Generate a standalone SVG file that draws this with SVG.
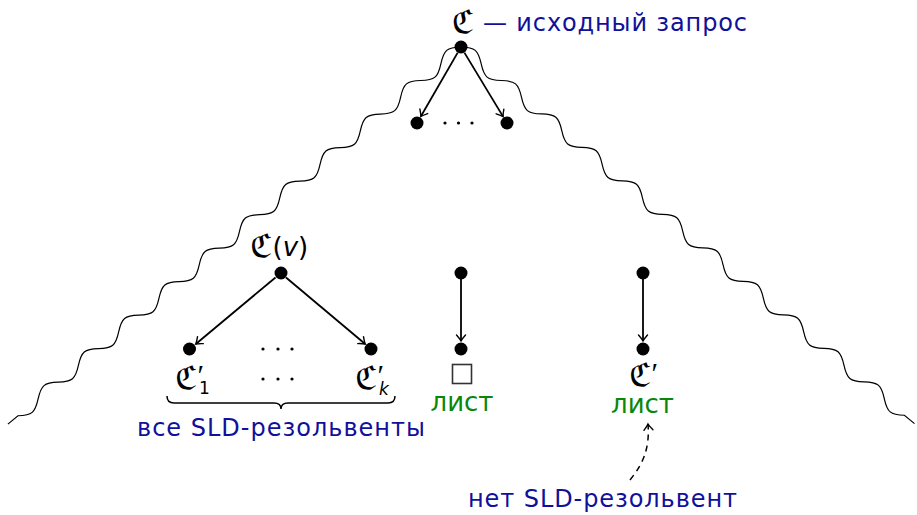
<svg xmlns="http://www.w3.org/2000/svg" width="917" height="515" viewBox="0 0 917 515">
<style>
.snake{fill:none;stroke:#000;stroke-width:1.2}
.edge{fill:none;stroke:#000;stroke-width:1.8}
.dot{fill:#000}
.sm{fill:#000}
.frak{font-family:"DejaVu Sans","DejaVu Serif",serif;font-size:32px;fill:#000}
.math{font-family:"DejaVu Sans",sans-serif;fill:#000}
.prime{font-family:"Liberation Serif",serif;font-size:30px}
.sub{font-family:"DejaVu Sans",sans-serif;font-size:17px}
.blue{font-family:"DejaVu Sans",sans-serif;font-size:24px;fill:#10109a}
.green{font-family:"DejaVu Sans",sans-serif;font-size:26px;fill:#0a870a;text-anchor:middle}
</style>
<defs>
<marker id="arr" viewBox="-8 -6 10 12" markerWidth="10" markerHeight="12" refX="0" refY="0" orient="auto" markerUnits="userSpaceOnUse">
<path d="M-6,-4.5 Q-2,-1 0,0 Q-2,1 -6,4.5" fill="none" stroke="#000" stroke-width="1.4" stroke-linecap="round"/>
</marker>
<path id="wave" d="M0,0 c4.27,3.33 8.38,6.5 13.1,6.5 s8.83,-3.17 13.1,-6.5 s8.38,-6.5 13.1,-6.5 s8.83,3.17 13.1,6.5 s8.38,6.5 13.1,6.5 s8.83,-3.17 13.1,-6.5 s8.38,-6.5 13.1,-6.5 s8.83,3.17 13.1,6.5 s8.38,6.5 13.1,6.5 s8.83,-3.17 13.1,-6.5 s8.38,-6.5 13.1,-6.5 s8.83,3.17 13.1,6.5 s8.38,6.5 13.1,6.5 s8.83,-3.17 13.1,-6.5 s8.38,-6.5 13.1,-6.5 s8.83,3.17 13.1,6.5 s8.38,6.5 13.1,6.5 s8.83,-3.17 13.1,-6.5 s8.38,-6.5 13.1,-6.5 s8.83,3.17 13.1,6.5 s8.38,6.5 13.1,6.5 s8.83,-3.17 13.1,-6.5 s8.38,-6.5 13.1,-6.5 s8.83,3.17 13.1,6.5 s8.38,6.5 13.1,6.5 s8.83,-3.17 13.1,-6.5 s8.38,-6.5 13.1,-6.5 s8.83,3.17 13.1,6.5 s8.38,6.5 13.1,6.5 s8.83,-3.17 13.1,-6.5 s8.38,-6.5 13.1,-6.5 s8.83,3.17 13.1,6.5 s8.38,6.5 13.1,6.5 s8.83,-3.17 13.1,-6.5 s8.38,-6.5 13.1,-6.5 s8.83,3.17 13.1,6.5 s8.38,6.5 13.1,6.5 s8.83,-3.17 13.1,-6.5 s8.38,-6.5 13.1,-6.5 s8.83,3.17 13.1,6.5 s8.38,6.5 13.1,6.5 s8.83,-3.17 13.1,-6.5 s8.38,-6.5 13.1,-6.5 s8.83,3.17 13.1,6.5 L589.5,0"/>
</defs>

<g id="boundary">
<use href="#wave" class="snake" transform="translate(461,47) rotate(140.23)"/>
<use href="#wave" class="snake" transform="translate(461,47) rotate(39.71) scale(1,-1)"/>
</g>

<g id="connectors">
<line class="edge" x1="457.7" y1="52.6" x2="420.8" y2="116.5" marker-end="url(#arr)"/>
<line class="edge" x1="464.4" y1="52.6" x2="503.1" y2="116.6" marker-end="url(#arr)"/>
<line class="edge" x1="275.5" y1="277.5" x2="195.8" y2="344" marker-end="url(#arr)"/>
<line class="edge" x1="286" y1="277.5" x2="365.2" y2="344" marker-end="url(#arr)"/>
<line class="edge" x1="461" y1="279" x2="461" y2="341" marker-end="url(#arr)"/>
<line class="edge" x1="643" y1="279" x2="643" y2="341" marker-end="url(#arr)"/>
<path d="M630,480 C642,465 650,450 648,424" fill="none" stroke="#000" stroke-width="1.5" stroke-dasharray="6,5" marker-end="url(#arr)"/>
</g>

<g id="root">
<circle class="dot" cx="461" cy="47" r="6.5"/>
<text class="frak" x="463" y="33" text-anchor="middle">ℭ</text>
<text class="blue" x="483" y="31" textLength="264" lengthAdjust="spacing">— исходный запрос</text>
</g>

<g id="child-left">
<circle class="dot" cx="417" cy="123" r="6.5"/>
</g>
<g id="child-right">
<circle class="dot" cx="507" cy="123" r="6.5"/>
</g>
<g id="top-ellipsis">
<circle class="sm" cx="445" cy="123" r="1.6"/>
<circle class="sm" cx="458.5" cy="123" r="1.6"/>
<circle class="sm" cx="472" cy="123" r="1.6"/>
</g>

<g id="node-v">
<circle class="dot" cx="281" cy="273" r="6.5"/>
<text class="math" x="250" y="257"><tspan class="frak">ℭ</tspan><tspan font-size="26" dy="-1">(</tspan><tspan font-size="26" font-style="italic">v</tspan><tspan font-size="26">)</tspan></text>
</g>

<g id="node-c1">
<circle class="dot" cx="189.5" cy="349" r="6.5"/>
<text class="math" x="175" y="389"><tspan class="frak">ℭ</tspan><tspan class="prime" dx="0" dy="-4">′</tspan><tspan class="sub" dx="-5" dy="9">1</tspan></text>
</g>

<g id="mid-ellipsis">
<circle class="sm" cx="263" cy="349" r="1.6"/>
<circle class="sm" cx="278" cy="349" r="1.6"/>
<circle class="sm" cx="292" cy="349" r="1.6"/>
<circle class="sm" cx="263" cy="379" r="1.6"/>
<circle class="sm" cx="278" cy="379" r="1.6"/>
<circle class="sm" cx="292" cy="379" r="1.6"/>
</g>

<g id="node-ck">
<circle class="dot" cx="371" cy="349" r="6.5"/>
<text class="math" x="355" y="389"><tspan class="frak">ℭ</tspan><tspan class="prime" dx="0" dy="-4">′</tspan><tspan class="sub" font-style="italic" dx="-5" dy="10">k</tspan></text>
</g>

<g id="brace">
<path d="M167,396 Q167,403 174,403 L274,403 Q281,403 281,409 Q281,403 288,403 L388,403 Q395,403 395,396" fill="none" stroke="#000" stroke-width="1.5"/>
<text class="blue" x="137" y="436" textLength="288" lengthAdjust="spacing">все SLD-резольвенты</text>
</g>

<g id="node-mid-top">
<circle class="dot" cx="461" cy="273" r="6.5"/>
</g>
<g id="node-mid-leaf">
<circle class="dot" cx="461" cy="349" r="6.5"/>
<rect x="452.5" y="364.5" width="19" height="19" fill="none" stroke="#333" stroke-width="1.6"/>
<text class="green" x="462" y="411">лист</text>
</g>

<g id="node-right-top">
<circle class="dot" cx="643" cy="273" r="6.5"/>
</g>
<g id="node-right-leaf">
<circle class="dot" cx="643" cy="349" r="6.5"/>
<text class="math" x="629" y="386"><tspan class="frak">ℭ</tspan><tspan class="prime" dx="0" dy="-3">′</tspan></text>
<text class="green" x="642.5" y="413">лист</text>
</g>

<g id="note">
<text class="blue" x="468" y="507" textLength="269" lengthAdjust="spacing">нет SLD-резольвент</text>
</g>
</svg>
